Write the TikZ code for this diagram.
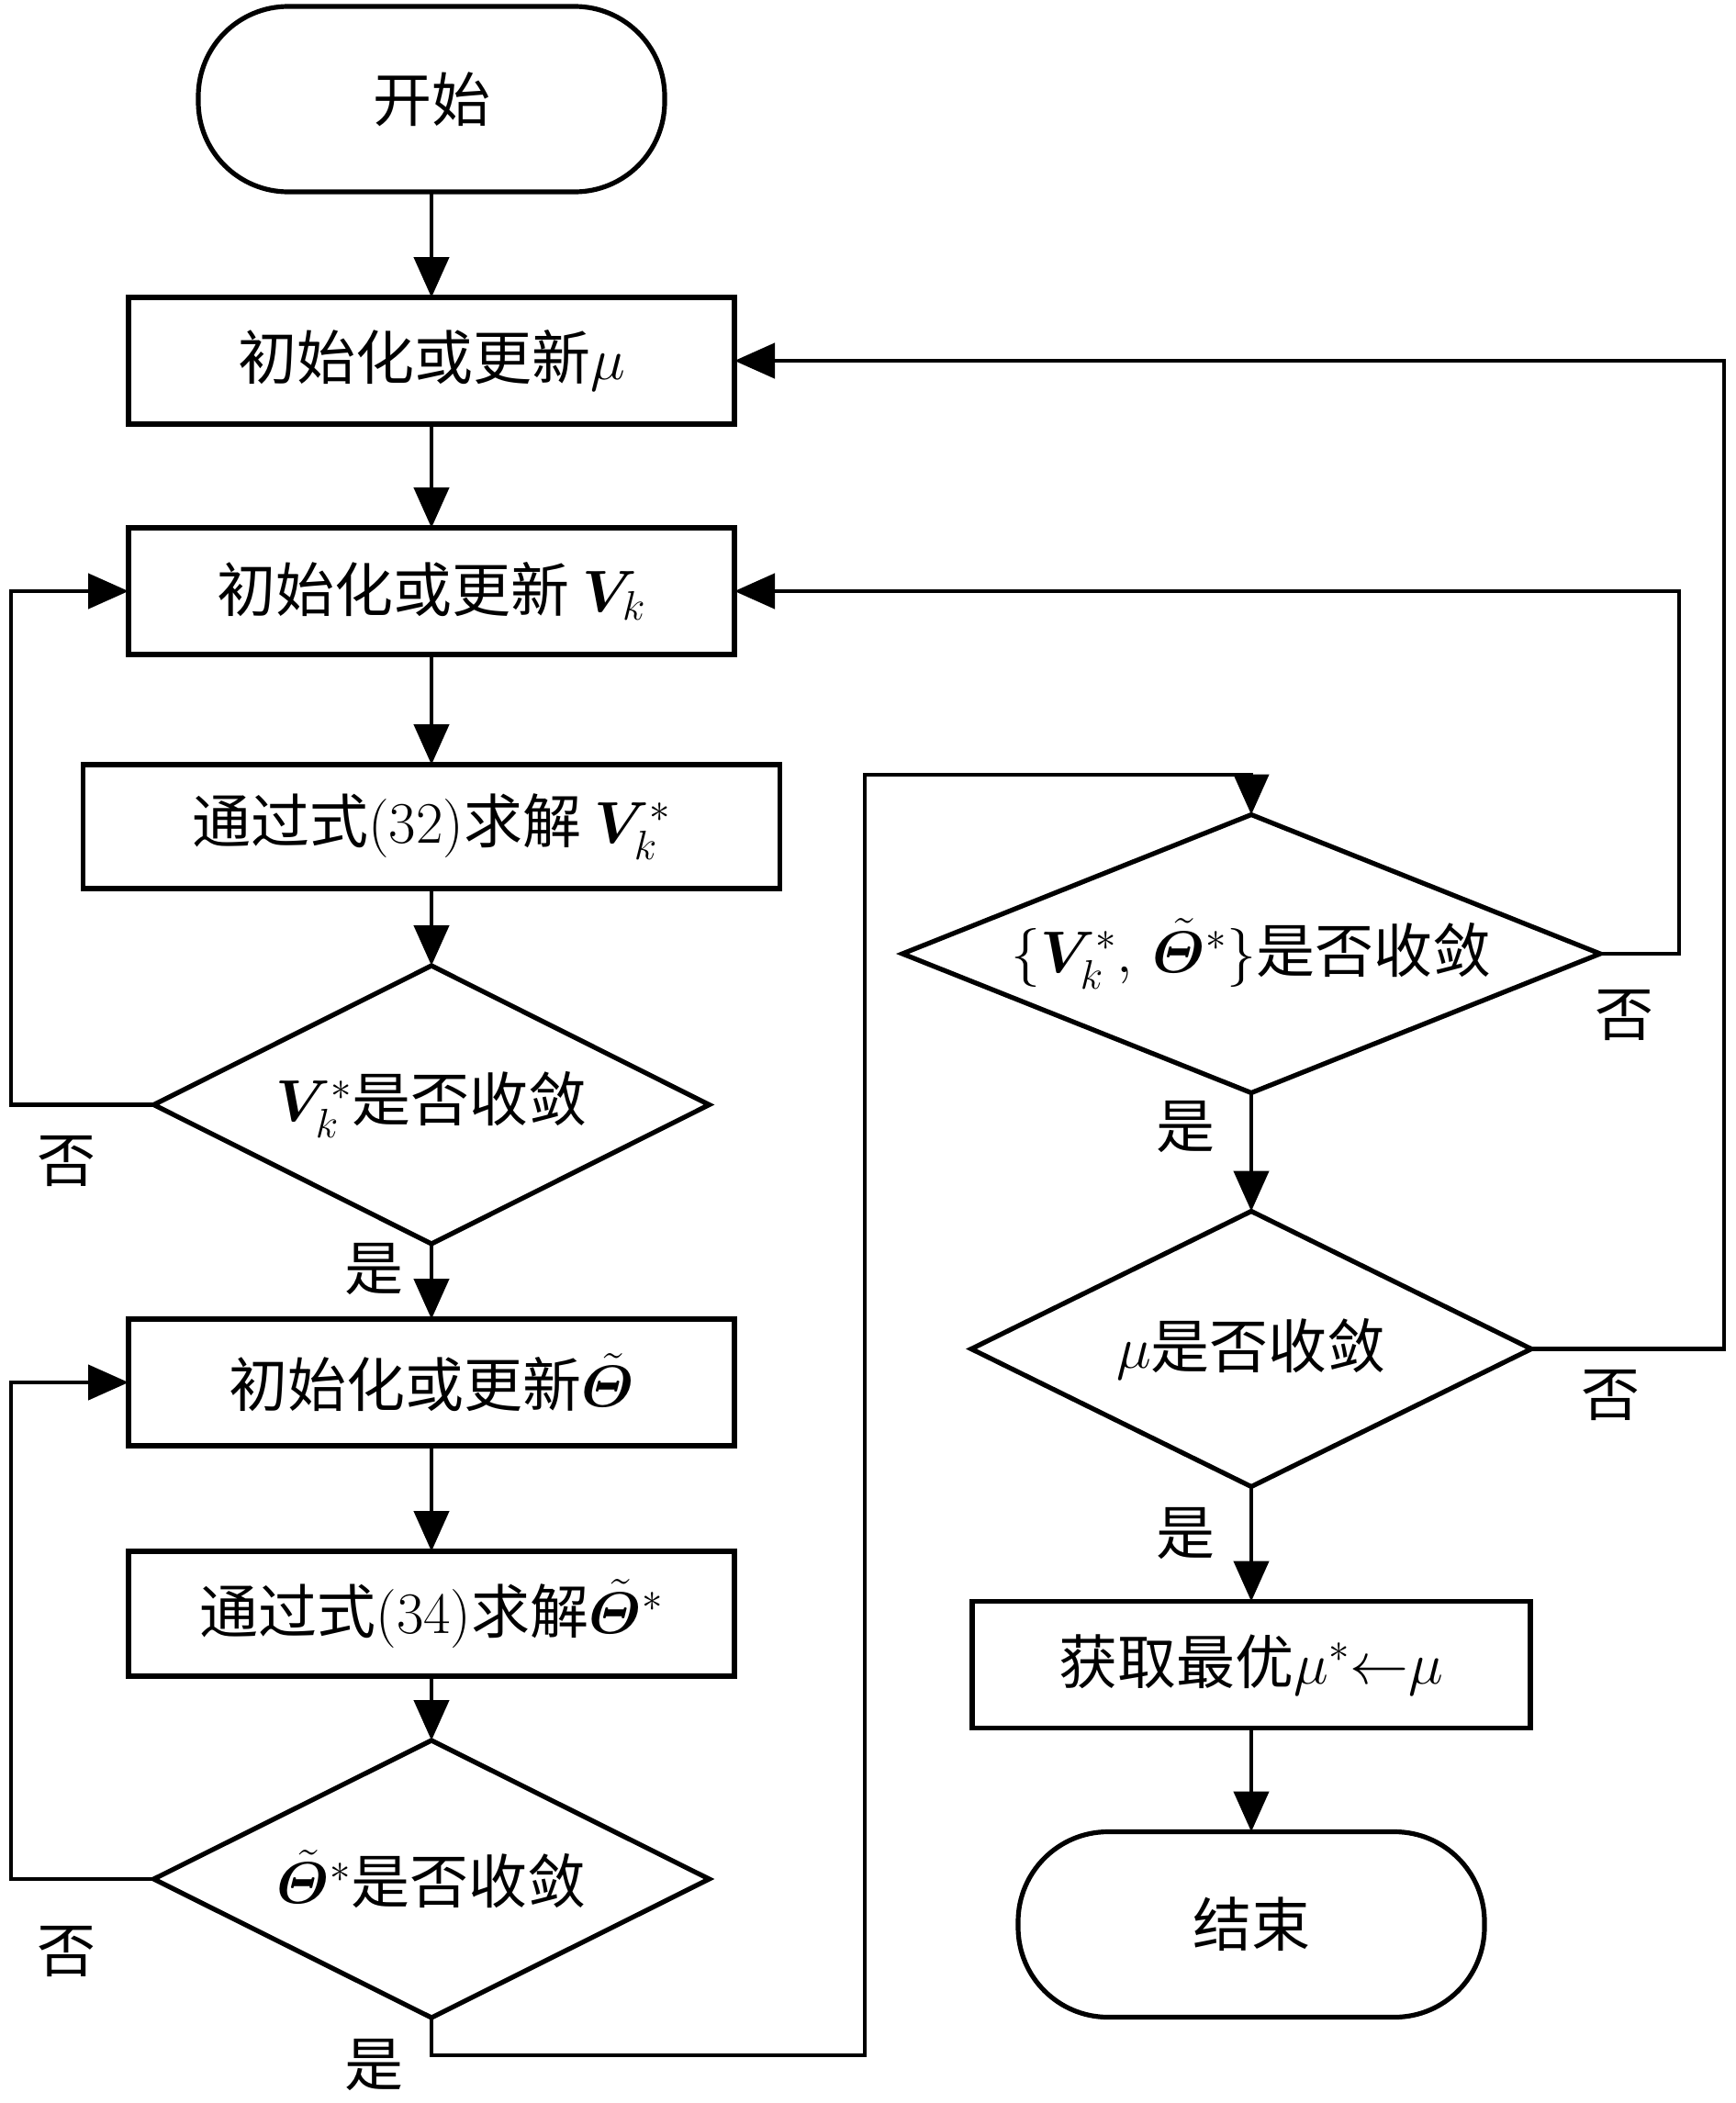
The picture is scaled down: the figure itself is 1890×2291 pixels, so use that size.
\RequirePackage{fix-cm}
\documentclass[tikz,border=0pt]{standalone}
\usepackage{amsmath}
\usepackage{amssymb}
\usepackage{bm}
\usepackage{fontspec}
\newfontfamily\cjk{Noto Sans CJK SC}
\usetikzlibrary{positioning,shapes.geometric,arrows.meta}

\tikzset{
  proc/.style={draw, line width=2.6pt, rectangle, minimum width=330pt, minimum height=69pt,
    outer sep=0pt, font=\cjk\fontsize{32}{38}\selectfont},
  term/.style={proc, rounded corners=49pt, minimum width=254pt, minimum height=101pt},
  decide/.style={draw, line width=2.6pt, diamond, aspect=2.5, inner sep=0pt, outer sep=0pt,
    font=\cjk\fontsize{32}{38}\selectfont},
  flow/.style={line width=2.3pt, -{Triangle[length=22pt,width=19pt]}},
  lbl/.style={font=\cjk\fontsize{32}{38}\selectfont, inner sep=0pt}
}

\begin{document}
\begin{tikzpicture}[x=0.5pt,y=0.5pt]
\useasboundingbox (0,0) rectangle (1890,-2291);
% left column
\node[term] (start) at (470,-108) {开始};
\node[proc, below=57.5pt of start] (mu) {初始化或更新$\mu$};
\node[proc, below=56.5pt of mu] (vk) {初始化或更新 $\bm{V}_k$};
\node[proc, below=60pt of vk, minimum width=379.5pt, minimum height=67.5pt] (solvev) {通过式$(32)$求解 $\bm{V}_k^*$};
\node[decide, below=42pt of solvev, minimum width=302.5pt, minimum height=151.5pt] (convv) {$\bm{V}_k^*$是否收敛};
\node[proc, below=41pt of convv] (theta) {初始化或更新$\tilde{\bm{\varTheta}}$};
\node[proc, below=57.5pt of theta, minimum height=68pt] (solvet) {通过式$(34)$求解$\tilde{\bm{\varTheta}}^*$};
\node[decide, below=35pt of solvet, minimum width=302.5pt, minimum height=151pt] (convt) {$\tilde{\bm{\varTheta}}^*$是否收敛};
% right column
\node[decide, minimum width=380pt, minimum height=151.5pt] (convall) at (1363,-1039) {$\{\bm{V}_k^*,\,\tilde{\bm{\varTheta}}^*\}$是否收敛};
\node[decide, below=64.5pt of convall, minimum width=305pt, minimum height=150pt] (convmu) {$\mu$是否收敛};
\node[proc, below=62.5pt of convmu, minimum width=304pt] (best) {获取最优$\mu^*{\leftarrow}\mu$};
\node[term, below=56.5pt of best] (stop) {结束};
% free ends of the loops
\coordinate (lx) at (12,0);
\coordinate (rx1) at (1829,0);
\coordinate (rx2) at (1878,0);
\coordinate (jx) at (942,0);
\coordinate (jtop) at (0,-844);
\coordinate (jbot) at (0,-2239);

\draw[flow] (start) -- (mu);
\draw[flow] (mu) -- (vk);
\draw[flow] (vk) -- (solvev);
\draw[flow] (solvev) -- (convv);
\draw[flow] (convv) -- node[lbl, pos=0.33, xshift=-31.5pt] (yes1) {是} (theta);
\draw[flow] (theta) -- (solvet);
\draw[flow] (solvet) -- (convt);
\draw[flow] (convv.west) -- node[lbl, pos=0.61, yshift=-30.5pt] (no1) {否} (convv.west -| lx) |- (vk.west);
\draw[flow] (convt.west) -- node[lbl, pos=0.61, yshift=-39.5pt] (no2) {否} (convt.west -| lx) |- (theta.west);
\draw[flow] (convt.south) -- (convt.south |- jbot) node[lbl, xshift=-31.5pt, yshift=-5pt] (yes2) {是}
  -| (jx |- jtop) -| (convall.north);

\draw[flow] (convall) -- node[lbl, pos=0.29, xshift=-36pt] (yes3) {是} (convmu);
\draw[flow] (convmu) -- node[lbl, pos=0.41, xshift=-36pt] (yes4) {是} (best);
\draw[flow] (best) -- (stop);
\draw[flow] (convall.east) -- node[lbl, pos=0.31, yshift=-33.5pt] (no3) {否} (convall.east -| rx1) |- (vk.east);
\draw[flow] (convmu.east) -- node[lbl, pos=0.41, yshift=-25pt] (no4) {否} (convmu.east -| rx2) |- (mu.east);
\end{tikzpicture}
\end{document}
